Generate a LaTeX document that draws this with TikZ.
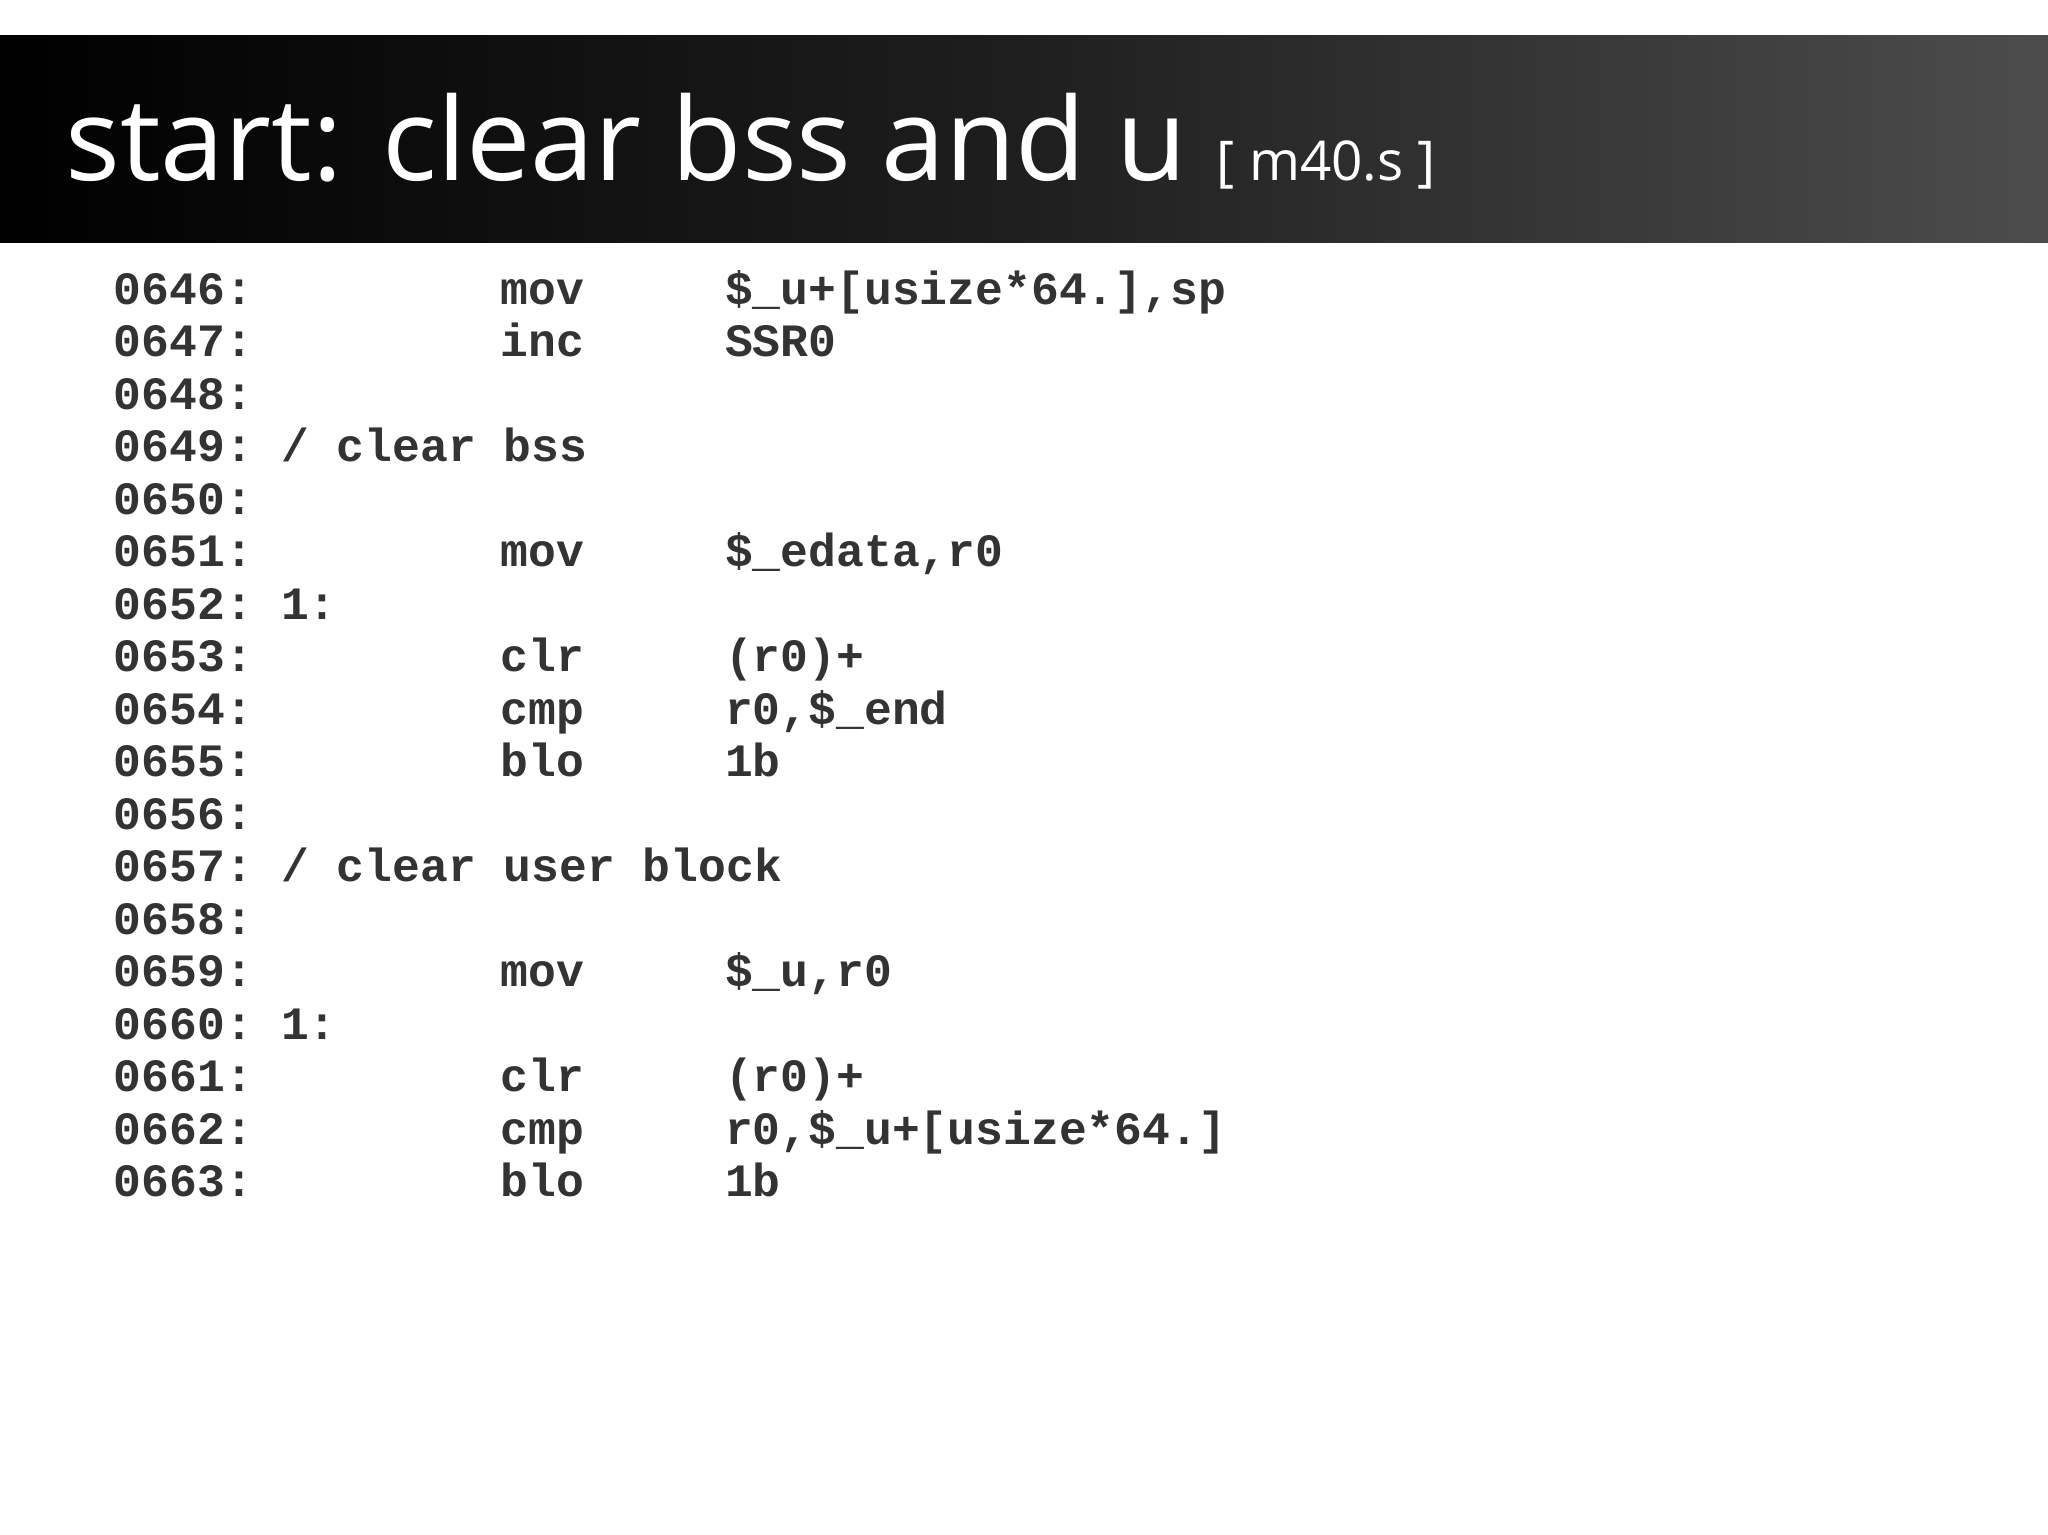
\documentclass[tikz,border=0pt]{standalone}
\usepackage{fontspec}
\setmainfont{Open Sans}
\newfontfamily\codefont{Liberation Mono}
\definecolor{codegray}{HTML}{333333}
\begin{document}
\begin{tikzpicture}[x=1pt,y=-1pt,
  code/.style={anchor=base west,inner sep=0pt,text=codegray,font=\codefont\bfseries\fontsize{35.5}{40}\selectfont}]
\useasboundingbox (0,0) rectangle (1568,1175);
\fill[white] (0,0) rectangle (1568,1175);
\shade[left color=black,right color=black!70,middle color=black!88] (0,27) rectangle (1568,186);
\node[anchor=base west,inner sep=0pt,text=white,font=\fontsize{88}{90}\selectfont] (title) at (50,138) {start: clear bss and u {\fontsize{42}{44}\selectfont[ m40.s ]}};
\foreach \n/\a/\b/\c [count=\i from 0] in {
 0646/{}/mov/{\$\_u+[usize*64.],sp},
 0647/{}/inc/SSR0,
 0648/{}/{}/{},
 0649/{/ clear bss}/{}/{},
 0650/{}/{}/{},
 0651/{}/mov/{\$\_edata,r0},
 0652/{1:}/{}/{},
 0653/{}/clr/{(r0)+},
 0654/{}/cmp/{r0,\$\_end},
 0655/{}/blo/1b,
 0656/{}/{}/{},
 0657/{/ clear user block}/{}/{},
 0658/{}/{}/{},
 0659/{}/mov/{\$\_u,r0},
 0660/{1:}/{}/{},
 0661/{}/clr/{(r0)+},
 0662/{}/cmp/{r0,\$\_u+[usize*64.]},
 0663/{}/blo/1b}{
 \node[code] (n\i) at (87,{233+40.2*\i}) {\n:};
 \node[code] (a\i) at (215,{233+40.2*\i}) {\a};
 \node[code] (b\i) at (383,{233+40.2*\i}) {\b};
 \node[code] (c\i) at (555,{233+40.2*\i}) {\c};
}
\end{tikzpicture}
\end{document}
